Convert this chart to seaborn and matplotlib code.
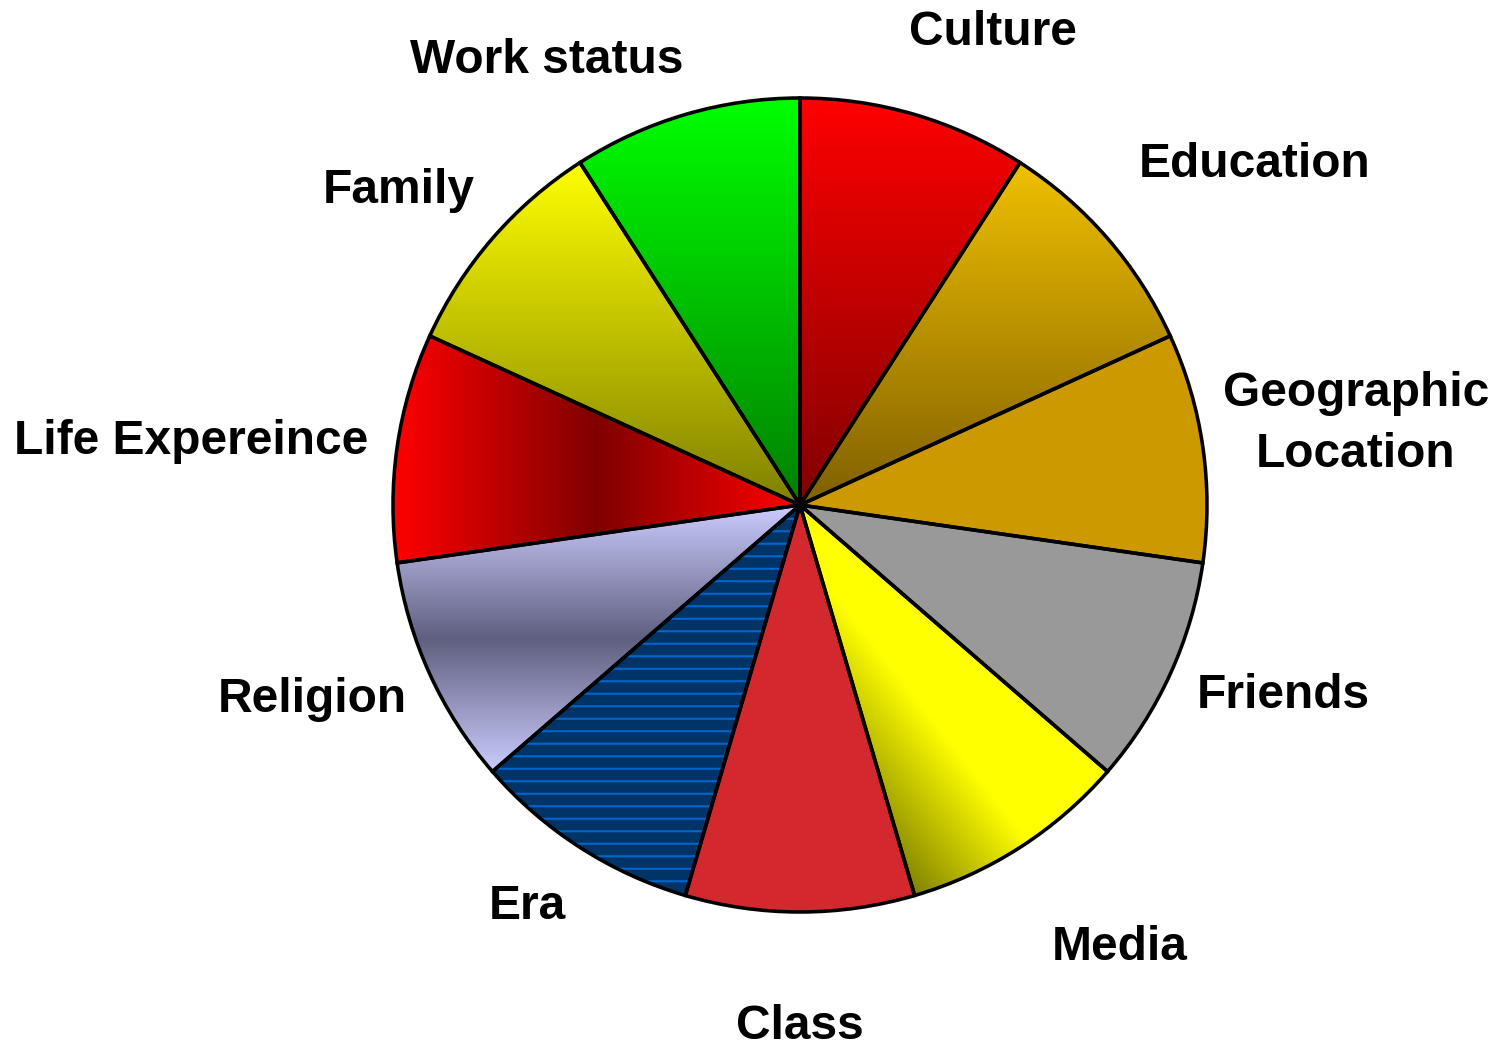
import numpy as np
import matplotlib
matplotlib.use("Agg")
import matplotlib.pyplot as plt
import seaborn as sns
from matplotlib.patches import Wedge
from matplotlib.colors import to_rgb

# ---------------- data ----------------
categories = ["Culture", "Education", "Geographic\nLocation", "Friends", "Media",
              "Class", "Era", "Religion", "Life Expereince", "Family", "Work status"]
values = [1, 1, 1, 1, 1, 1, 1, 1, 1, 1, 1]

# ---------------- styles / layout ----------------
base_colors = ["#c00000", "#c09000", "#cc9900", "#999999", "#ffff00",
               "#d2282e", "#003366", "#9090b0", "#c00000", "#c0c000", "#00c000"]
# gradient specs per slice index: (direction, stops)
gradients = {
    0: ("v", [(0, "#ff0000"), (1, "#800000")]),
    1: ("v", [(0, "#f0c000"), (1, "#806000")]),
    4: ("diag", [(0, "#ffff00"), (0.56, "#ffff00"), (0.86, "#6b6b00"), (1, "#6b6b00")]),
    7: ("v", [(0, "#ccccff"), (0.5, "#5f5f7f"), (1, "#ccccff")]),
    8: ("h", [(0, "#ff0000"), (0.5, "#800000"), (1, "#ff0000")]),
    9: ("v", [(0, "#ffff00"), (1, "#808000")]),
    10: ("v", [(0, "#00ff00"), (1, "#008000")]),
}
hatched = {6: "#0066cc"}
# label anchor (x centre, baseline of last line) in pixel coordinates from top-left
label_pos_px = [(993, 45), (1255, 177), (1356, 467), (1283, 708), (1120, 960),
                (800, 1039), (527, 919), (312, 712), (191, 454), (399, 203), (547, 73)]

W, H, DPI = 1496, 1050, 75
CX, CY_PX, R = 800, 505, 407

sns.set_theme(style="white")
plt.rcParams["font.family"] = ["Liberation Sans", "DejaVu Sans"]
plt.rcParams["hatch.linewidth"] = 2.0

fig = plt.figure(figsize=(W / DPI, H / DPI), dpi=DPI)
ax = fig.add_axes([0, 0, 1, 1])
cy = H - CY_PX

wedges, _ = ax.pie(values, colors=base_colors, startangle=90, counterclock=False,
                   center=(CX, cy), radius=R, wedgeprops=dict(linewidth=0))


def ramp_at(stops, t):
    pos = np.array([s[0] for s in stops])
    cols = np.array([to_rgb(s[1]) for s in stops])
    return np.stack([np.interp(t, pos, cols[:, k]) for k in range(3)], axis=-1)


for i, (kind, stops) in gradients.items():
    w = wedges[i]
    ext = w.get_path().get_extents()
    x0, y0, x1, y1 = ext.x0, ext.y0, ext.x1, ext.y1
    n = 256
    t = np.linspace(0, 1, n)
    if kind == "v":
        img = ramp_at(stops, t)[:, None, :]
    elif kind == "h":
        img = ramp_at(stops, t)[None, :, :]
    else:
        u = t[None, :]
        v = t[:, None]
        s = ((1 - u) + v) / 2
        img = ramp_at(stops, s)
    im = ax.imshow(img, extent=(x0, x1, y0, y1), origin="upper",
                   aspect="auto", interpolation="bilinear", zorder=2)
    im.set_clip_path(w)

for i, hc in hatched.items():
    w = wedges[i]
    ov = Wedge(w.center, w.r, w.theta1, w.theta2, facecolor="none",
               edgecolor=hc, hatch="-", linewidth=0, zorder=3)
    ax.add_patch(ov)

# outlines
ax.pie(values, startangle=90, counterclock=False, center=(CX, cy), radius=R,
       wedgeprops=dict(fill=False, edgecolor="black", linewidth=3.4, zorder=5))

for lab, (x, y) in zip(categories, label_pos_px):
    ax.text(x, H - y, lab, ha="center", va="baseline", fontsize=46,
            fontweight="bold", multialignment="center", linespacing=1.47,
            color="black", zorder=6)

ax.set_xlim(0, W)
ax.set_ylim(0, H)
ax.set_aspect("equal")
ax.axis("off")
fig.savefig("out.png", dpi=DPI, facecolor="white")
